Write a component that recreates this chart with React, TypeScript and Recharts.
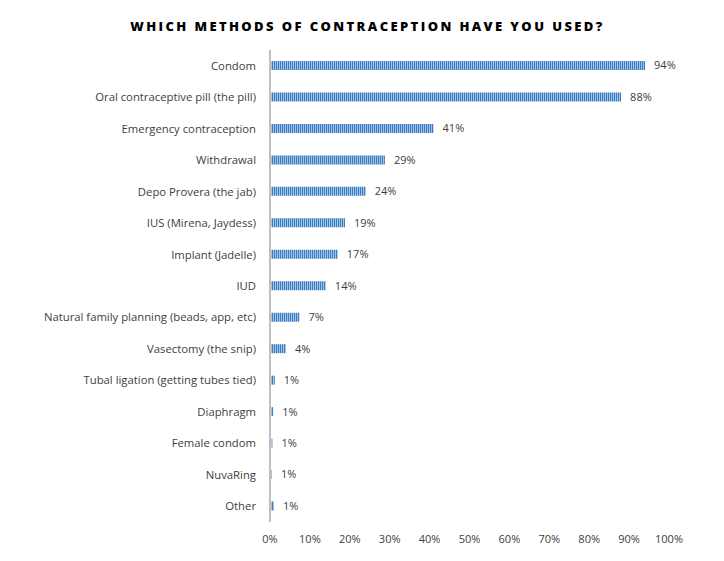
import React from "react";
import { BarChart, Bar, XAxis, YAxis, LabelList } from "recharts";

const methods = [
  "Condom",
  "Oral contraceptive pill (the pill)",
  "Emergency contraception",
  "Withdrawal",
  "Depo Provera (the jab)",
  "IUS (Mirena, Jaydess)",
  "Implant (Jadelle)",
  "IUD",
  "Natural family planning (beads, app, etc)",
  "Vasectomy (the snip)",
  "Tubal ligation (getting tubes tied)",
  "Diaphragm",
  "Female condom",
  "NuvaRing",
  "Other",
];

const percentUsed = [94, 88, 41, 28.8, 24, 18.8, 17, 14, 7.4, 4, 1.2, 0.8, 0.6, 0.5, 1.0];

const xTicks = [0, 10, 20, 30, 40, 50, 60, 70, 80, 90, 100];

const chartData = methods.map((name, i) => ({ name, value: percentUsed[i] }));

const FONT = "'Open Sans', 'Noto Sans', sans-serif";

const App: React.FC = () => {
  return (
    <div style={{ position: "absolute", left: 0, top: 0, width: 724, height: 561, background: "#fff" }}>
      <div
        style={{
          position: "absolute",
          top: 17,
          left: 0,
          width: 735,
          textAlign: "center",
          fontFamily: FONT,
          fontWeight: 800,
          fontSize: 13,
          letterSpacing: 2.4,
          color: "#000",
        }}
      >
        WHICH METHODS OF CONTRACEPTION HAVE YOU USED?
      </div>
      <BarChart
        width={724}
        height={561}
        layout="vertical"
        data={chartData}
        margin={{ top: 50, right: 55, left: 0, bottom: 0 }}
        barCategoryGap={0}
      >
        <defs>
          <pattern id="stripes" patternUnits="userSpaceOnUse" width={2} height={10}>
            <rect x={0} y={0} width={1} height={10} fill="#3f7dc0" />
            <rect x={1} y={0} width={1} height={10} fill="#9fc4e8" />
          </pattern>
        </defs>
        <XAxis
          type="number"
          domain={[0, 100]}
          ticks={xTicks}
          tickFormatter={(v: number) => `${v}%`}
          axisLine={false}
          tickLine={false}
          tickMargin={7}
          height={39}
          tick={{ fontSize: 11, fill: "#404040", fontFamily: FONT }}
        />
        <YAxis
          type="category"
          dataKey="name"
          width={270}
          interval={0}
          tickLine={false}
          tickMargin={8}
          axisLine={{ stroke: "#c0c0c0", strokeWidth: 2 }}
          tick={{ fontSize: 11.3, fill: "#404040", fontFamily: FONT }}
        />
        <Bar dataKey="value" fill="url(#stripes)" barSize={9} isAnimationActive={false}>
          <LabelList
            dataKey="value"
            position="right"
            offset={9}
            formatter={(v: number) => `${Math.round(v)}%`}
            style={{ fontSize: 11, fill: "#404040", fontFamily: FONT }}
          />
        </Bar>
      </BarChart>
    </div>
  );
};

export default App;
